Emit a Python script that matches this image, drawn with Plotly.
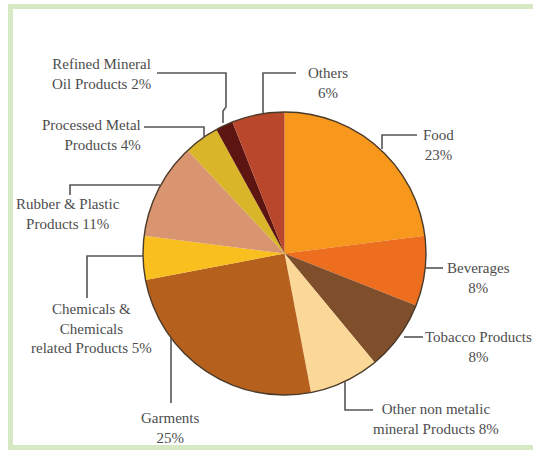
import plotly.graph_objects as go

W, H = 533, 455

# ---- data ----
categories = ["Food", "Beverages", "Tobacco Products", "Other non metalic mineral Products",
              "Garments", "Chemicals & Chemicals related Products", "Rubber & Plastic Products",
              "Processed Metal Products", "Refined Mineral Oil Products", "Others"]
shares = [23, 8, 8, 8, 25, 5, 11, 4, 2, 6]
slice_colors = ["#F7971B", "#EE6E1F", "#7F4E2A", "#FCD898", "#B5601D",
                "#F8BF1E", "#D99470", "#D9B52A", "#5C1511", "#B9472C"]
label_texts = ["Food<br>23%", "Beverages<br>8%", "Tobacco Products<br>8%",
               "Other non metalic<br>mineral Products 8%", "Garments<br>25%",
               "Chemicals &<br>Chemicals<br>related Products 5%", "Rubber & Plastic<br>Products 11%",
               "Processed Metal<br>Products 4%", "Refined Mineral<br>Oil Products 2%", "Others<br>6%"]


def px(x):
    return x / W


def py(y):
    return 1 - y / H


# pie geometry (pixels)
cx, cy, r = 284.5, 253.5, 141.5

fig = go.Figure()
fig.add_trace(go.Pie(
    values=shares, labels=categories, sort=False, direction="clockwise", rotation=0,
    marker=dict(colors=slice_colors, line=dict(width=0)),
    textinfo="none", hoverinfo="label+percent", showlegend=False,
    domain=dict(x=[px(cx - r), px(cx + r)], y=[py(cy + r), py(cy - r)]),
))

shapes = []
# frame (left, top, bottom edges; right edge lies outside the picture)
frame_path = f"M {px(W):.5f},{py(6.5):.5f} L {px(10.5):.5f},{py(6.5):.5f} L {px(10.5):.5f},{py(447.5):.5f} L {px(W):.5f},{py(447.5):.5f}"
shapes.append(dict(type="path", xref="paper", yref="paper", path=frame_path,
                   line=dict(color="#D7E9C4", width=5), layer="below"))
# pie outline
shapes.append(dict(type="circle", xref="paper", yref="paper",
                   x0=px(cx - r), x1=px(cx + r), y0=py(cy + r), y1=py(cy - r),
                   line=dict(color="#4A3A2A", width=1.4)))

# leader lines (pixel polylines)
leaders = [
    [(382, 149), (382, 135), (417, 135)],
    [(426, 268), (443, 268)],
    [(404, 337), (423, 337)],
    [(345, 382), (345, 410), (373, 410)],
    [(171, 338), (171, 403)],
    [(143, 256), (87, 256), (87, 298)],
    [(70, 195), (70, 185), (160, 185)],
    [(144, 127), (204, 127), (204, 138)],
    [(157, 73), (226, 73), (226, 107), (223, 111), (223, 123)],
    [(263, 113), (263, 73), (296, 73)],
]
for pts in leaders:
    path = "M " + " L ".join(f"{px(x):.5f},{py(y):.5f}" for x, y in pts)
    shapes.append(dict(type="path", xref="paper", yref="paper", path=path,
                       line=dict(color="#555555", width=1.6)))

# label positions (pixel centres) and anchors
label_pos = [
    (438, 144.5, "center"),
    (478, 277.5, "center"),
    (478, 346.5, "center"),
    (436, 419, "center"),
    (170, 428, "center"),
    (91, 328, "center"),
    (68, 214, "center"),
    (143, 135, "right"),
    (101, 74, "center"),
    (328, 82.5, "center"),
]
annotations = []
for txt, (x, y, anc) in zip(label_texts, label_pos):
    annotations.append(dict(text=txt, x=px(x), y=py(y), xref="paper", yref="paper",
                            xanchor=anc, yanchor="middle", align=anc, showarrow=False,
                            font=dict(family="Liberation Serif", size=15, color="#4D4D4D")))

fig.update_layout(width=W, height=H, margin=dict(l=0, r=0, t=0, b=0),
                  paper_bgcolor="white", plot_bgcolor="white",
                  shapes=shapes, annotations=annotations)

fig.write_html("out.html", config={"displayModeBar": False},
               post_script="document.body.style.margin='0';document.body.style.overflow='hidden';")
